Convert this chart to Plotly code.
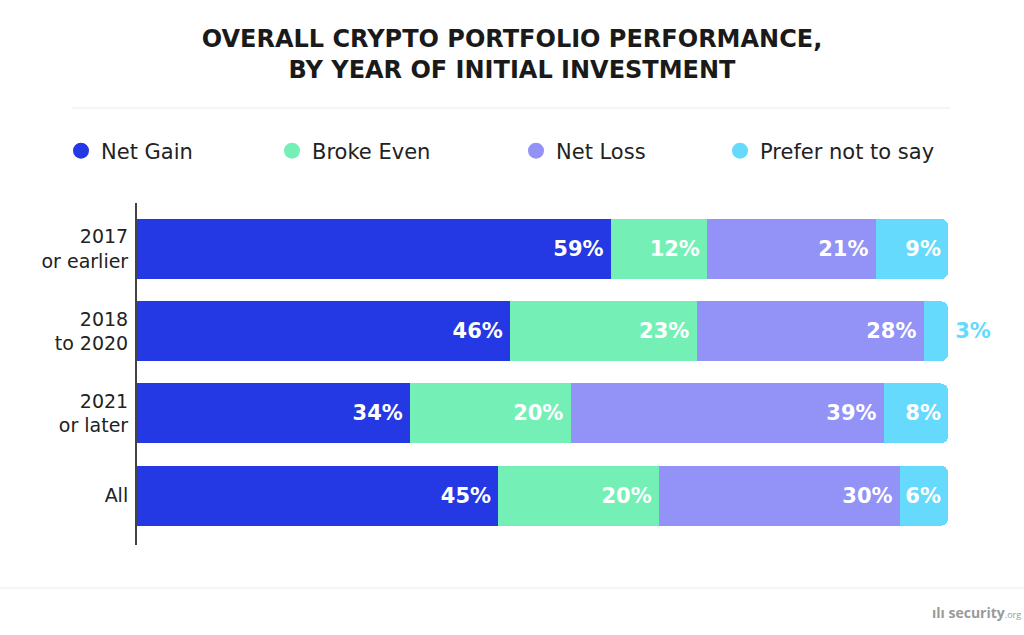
import plotly.graph_objects as go

categories = ["2017<br>or earlier", "2018<br>to 2020", "2021<br>or later", "All"]
series_names = ["Net Gain", "Broke Even", "Net Loss", "Prefer not to say"]
net_gain = [59, 46, 34, 45]
broke_even = [12, 23, 20, 20]
net_loss = [21, 28, 39, 30]
prefer_not = [9, 3, 8, 6]
colors = ["#2438E3", "#74F0B6", "#9292F7", "#66DAFD"]

values = [net_gain, broke_even, net_loss, prefer_not]

W, H = 1024, 635
L, R, T, B = 137, 76, 203, 90
pw = W - L - R
ph = H - T - B

def px_x(x):
    return (x - L) / pw

def px_y(y):
    return 1 + (T - y) / ph

FONT = "DejaVu Sans"

fig = go.Figure()

legend_ids = ["legend", "legend2", "legend3", "legend4"]
for i, (name, vals, col) in enumerate(zip(series_names, values, colors)):
    last = i == len(series_names) - 1
    positions = []
    texts = []
    for v in vals:
        if last and v < 5:
            positions.append("outside")
            texts.append(f"\u2009{v}%")
        elif last:
            positions.append("inside")
            texts.append(f"{v}%")
        else:
            positions.append("inside")
            texts.append(f"{v}%\u2009")
    fig.add_trace(go.Bar(
        y=categories, x=vals, orientation="h", name=name,
        marker=dict(color=col, line=dict(width=0)),
        text=texts,
        textposition=positions,
        insidetextanchor="end",
        insidetextfont=dict(color="white", size=21, family=FONT, weight=700),
        outsidetextfont=dict(color=col, size=21, family=FONT, weight=700),
        constraintext="none",
        cliponaxis=False,
        showlegend=False,
        legendgroup=name,
        hoverinfo="skip",
    ))
    fig.add_trace(go.Scatter(
        x=[None], y=[None], mode="markers", name=name,
        marker=dict(color=col, size=24, symbol="circle"),
        showlegend=True, legendgroup=name, legend=legend_ids[i],
        hoverinfo="skip",
    ))

legend_x_px = [61, 272, 516, 720]
legend_common = dict(orientation="h", yanchor="middle", xanchor="left",
                     font=dict(family=FONT, size=21, color="#222"),
                     bgcolor="rgba(0,0,0,0)", itemclick=False, itemdoubleclick=False)
layout_legends = {}
for lid, lx in zip(legend_ids, legend_x_px):
    layout_legends[lid] = dict(x=px_x(lx), y=px_y(151), **legend_common)

fig.update_layout(
    width=W, height=H,
    margin=dict(l=L, r=R, t=T, b=B),
    paper_bgcolor="white", plot_bgcolor="white",
    barmode="stack", barnorm="percent", bargap=0.27,
    barcornerradius=7,
    title=dict(
        text="<b>OVERALL CRYPTO PORTFOLIO PERFORMANCE,<br>BY YEAR OF INITIAL INVESTMENT</b>",
        x=0.5, xanchor="center", y=(H - 47) / H, yanchor="middle",
        font=dict(family=FONT, size=24, color="#1a1a1a"),
    ),
    xaxis=dict(range=[0, 100], visible=False, fixedrange=True),
    yaxis=dict(
        categoryorder="array", categoryarray=categories,
        range=[3.60, -0.56],
        showline=True, linecolor="#444", linewidth=2,
        showgrid=False, zeroline=False, ticks="",
        ticklabelstandoff=3,
        tickfont=dict(family=FONT, size=19, color="#222"),
        fixedrange=True,
    ),
    shapes=[
        dict(type="line", xref="paper", yref="paper",
             x0=px_x(72), x1=px_x(950), y0=px_y(108), y1=px_y(108),
             line=dict(color="#EBEBEB", width=1)),
        dict(type="line", xref="paper", yref="paper",
             x0=px_x(0), x1=px_x(W), y0=px_y(588), y1=px_y(588),
             line=dict(color="#EBEBEB", width=1)),
    ],
    annotations=[
        dict(text="<b>ılı security</b><span style='font-size:9px'>.org</span>",
             xref="paper", yref="paper", x=px_x(1023), y=px_y(612),
             xanchor="right", yanchor="middle", showarrow=False,
             font=dict(family="Open Sans", size=14, color="#9A9A9A")),
    ],
    **layout_legends,
)

fig.write_html("out.html", config={"displayModeBar": False},
               post_script="document.body.style.margin='0';")
